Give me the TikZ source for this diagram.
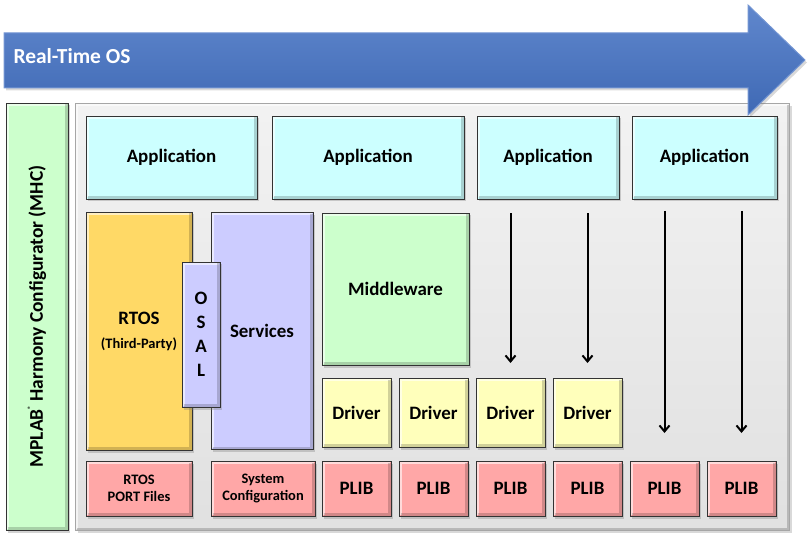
\documentclass[tikz,border=0pt]{standalone}
\usepackage{fontspec}
\setmainfont{Carlito}
\usepackage{xcolor}
\usetikzlibrary{positioning,shadows,arrows.meta}

\definecolor{appcyan}{HTML}{CCFFFF}
\definecolor{rtosgold}{HTML}{FFD966}
\definecolor{srvblue}{HTML}{CCCCFF}
\definecolor{midgreen}{HTML}{CCFFCC}
\definecolor{drvyellow}{HTML}{FFFFBB}
\definecolor{plibred}{HTML}{FFA7A7}
\definecolor{osblue}{HTML}{4472C4}

\tikzset{
    bevel/.style={path picture={
        \draw[white, opacity=0.6, line width=2.5bp]
            ([shift={(1.5bp,1.5bp)}]path picture bounding box.south west)
            |- ([shift={(-1.5bp,-1.5bp)}]path picture bounding box.north east);
        \draw[black, opacity=0.18, line width=2.5bp]
            ([shift={(1.5bp,1.5bp)}]path picture bounding box.south west)
            -| ([shift={(-1.5bp,-1.5bp)}]path picture bounding box.north east);
    }},
    block/.style={draw=black!80,
        line width=0.9bp,
        inner sep=0pt,
        outer sep=0pt,
        align=center,
        bevel,
        drop shadow={shadow xshift=2bp, shadow yshift=-2.5bp, opacity=0.35},
        font=\fontsize{19}{23}\selectfont\bfseries},
    smalltext/.style={font=\fontsize{14.5}{16.5}\selectfont\bfseries},
    flow/.style={-{Straight Barb[length=6bp,width=10bp]}, line width=2bp}
}

\begin{document}
\begin{tikzpicture}[x=1bp,y=-1bp]
    \useasboundingbox (0,0) rectangle (810,536);

    % background panel and configurator bar
    \node[draw=black!35,
        line width=1bp,
        top color=black!5,
        bottom color=black!12,
        bevel,
        drop shadow={shadow xshift=2bp, shadow yshift=-2.5bp, opacity=0.3},
        minimum width=714bp,
        minimum height=427bp,
        anchor=north west]
        (panel) at (75,103) {};

    \node[block,
        fill=midgreen,
        minimum width=62bp,
        minimum height=427bp,
        anchor=north west]
        (mhc) at (6,103) {};
    \node[rotate=90, font=\fontsize{19.5}{23}\selectfont\bfseries]
        (mhclabel) at (mhc.center)
        {MPLAB\raisebox{1.1ex}{\fontsize{7}{7}\selectfont\textregistered} Harmony Configurator (MHC)};

    % real-time os arrow
    \path[draw=osblue!75!white,
        line width=1bp,
        top color=osblue!85!white,
        bottom color=osblue!92!black,
        drop shadow={shadow xshift=2bp, shadow yshift=-2.5bp, opacity=0.3}]
        (4,33) -- (748,33) -- (748,5) -- (805,60) -- (748,115) -- (748,88) -- (4,88) -- cycle;
    \node[anchor=west,
        text=white,
        font=\fontsize{21.5}{25}\selectfont\bfseries]
        (oslabel) at (10,56) {Real-Time OS};

    % applications
    \node[block,
        fill=appcyan,
        minimum width=171bp,
        minimum height=83bp,
        anchor=north west]
        (app1) at (86,116) {Application};

    \node[block,
        fill=appcyan,
        minimum width=192bp,
        minimum height=83bp,
        right=15bp of app1]
        (app2) {Application};

    \node[block,
        fill=appcyan,
        minimum width=142bp,
        minimum height=83bp,
        right=13bp of app2]
        (app3) {Application};

    \node[block,
        fill=appcyan,
        minimum width=145bp,
        minimum height=83bp,
        right=13bp of app3]
        (app4) {Application};

    % rtos, services, osal, middleware
    \node[block,
        fill=rtosgold,
        minimum width=106bp,
        minimum height=238bp,
        anchor=north west]
        (rtos) at (86,212) {RTOS\\[1pt]{\fontsize{14.5}{16.5}\selectfont (Third-Party)}};

    \node[block,
        fill=srvblue,
        minimum width=102bp,
        minimum height=237bp,
        right=19bp of rtos]
        (services) {Services};

    \node[block,
        fill=srvblue,
        minimum width=38bp,
        minimum height=145bp,
        font=\fontsize{19}{24}\selectfont\bfseries]
        (osal) at (201,334.5) {O\\S\\A\\L};

    \node[block,
        fill=midgreen,
        minimum width=147bp,
        minimum height=152bp,
        anchor=north west]
        (middleware) at (322,213) {Middleware};

    % drivers
    \node[block,
        fill=drvyellow,
        minimum width=69bp,
        minimum height=69bp,
        anchor=north west]
        (drv1) at (322,378) {Driver};

    \node[block,
        fill=drvyellow,
        minimum width=69bp,
        minimum height=69bp,
        right=8bp of drv1]
        (drv2) {Driver};

    \node[block,
        fill=drvyellow,
        minimum width=69bp,
        minimum height=69bp,
        right=8bp of drv2]
        (drv3) {Driver};

    \node[block,
        fill=drvyellow,
        minimum width=69bp,
        minimum height=69bp,
        right=8bp of drv3]
        (drv4) {Driver};

    % bottom row
    \node[block,
        smalltext,
        fill=plibred,
        minimum width=106bp,
        minimum height=55bp,
        anchor=north west]
        (port) at (86,461) {RTOS\\PORT Files};

    \node[block,
        smalltext,
        fill=plibred,
        minimum width=104bp,
        minimum height=55bp,
        anchor=north west]
        (syscfg) at (211,461) {System\\Configuration};

    \node[block,
        fill=plibred,
        minimum width=69bp,
        minimum height=55bp,
        right=7bp of syscfg]
        (plib1) {PLIB};

    \node[block,
        fill=plibred,
        minimum width=69bp,
        minimum height=55bp,
        right=8bp of plib1]
        (plib2) {PLIB};

    \node[block,
        fill=plibred,
        minimum width=69bp,
        minimum height=55bp,
        right=8bp of plib2]
        (plib3) {PLIB};

    \node[block,
        fill=plibred,
        minimum width=69bp,
        minimum height=55bp,
        right=8bp of plib3]
        (plib4) {PLIB};

    \node[block,
        fill=plibred,
        minimum width=69bp,
        minimum height=55bp,
        right=8bp of plib4]
        (plib5) {PLIB};

    \node[block,
        fill=plibred,
        minimum width=69bp,
        minimum height=55bp,
        right=8bp of plib5]
        (plib6) {PLIB};

    % calls down to drivers and plibs
    \draw[flow, shorten <=14bp, shorten >=15bp]
        (app3.south -| drv3.north) -- (drv3.north);
    \draw[flow, shorten <=14bp, shorten >=15bp]
        (app3.south -| drv4.north) -- (drv4.north);
    \draw[flow, shorten <=12bp, shorten >=28bp]
        (app4.south -| plib5.north) -- (plib5.north);
    \draw[flow, shorten <=12bp, shorten >=28bp]
        (app4.south -| plib6.north) -- (plib6.north);

\end{tikzpicture}
\end{document}
